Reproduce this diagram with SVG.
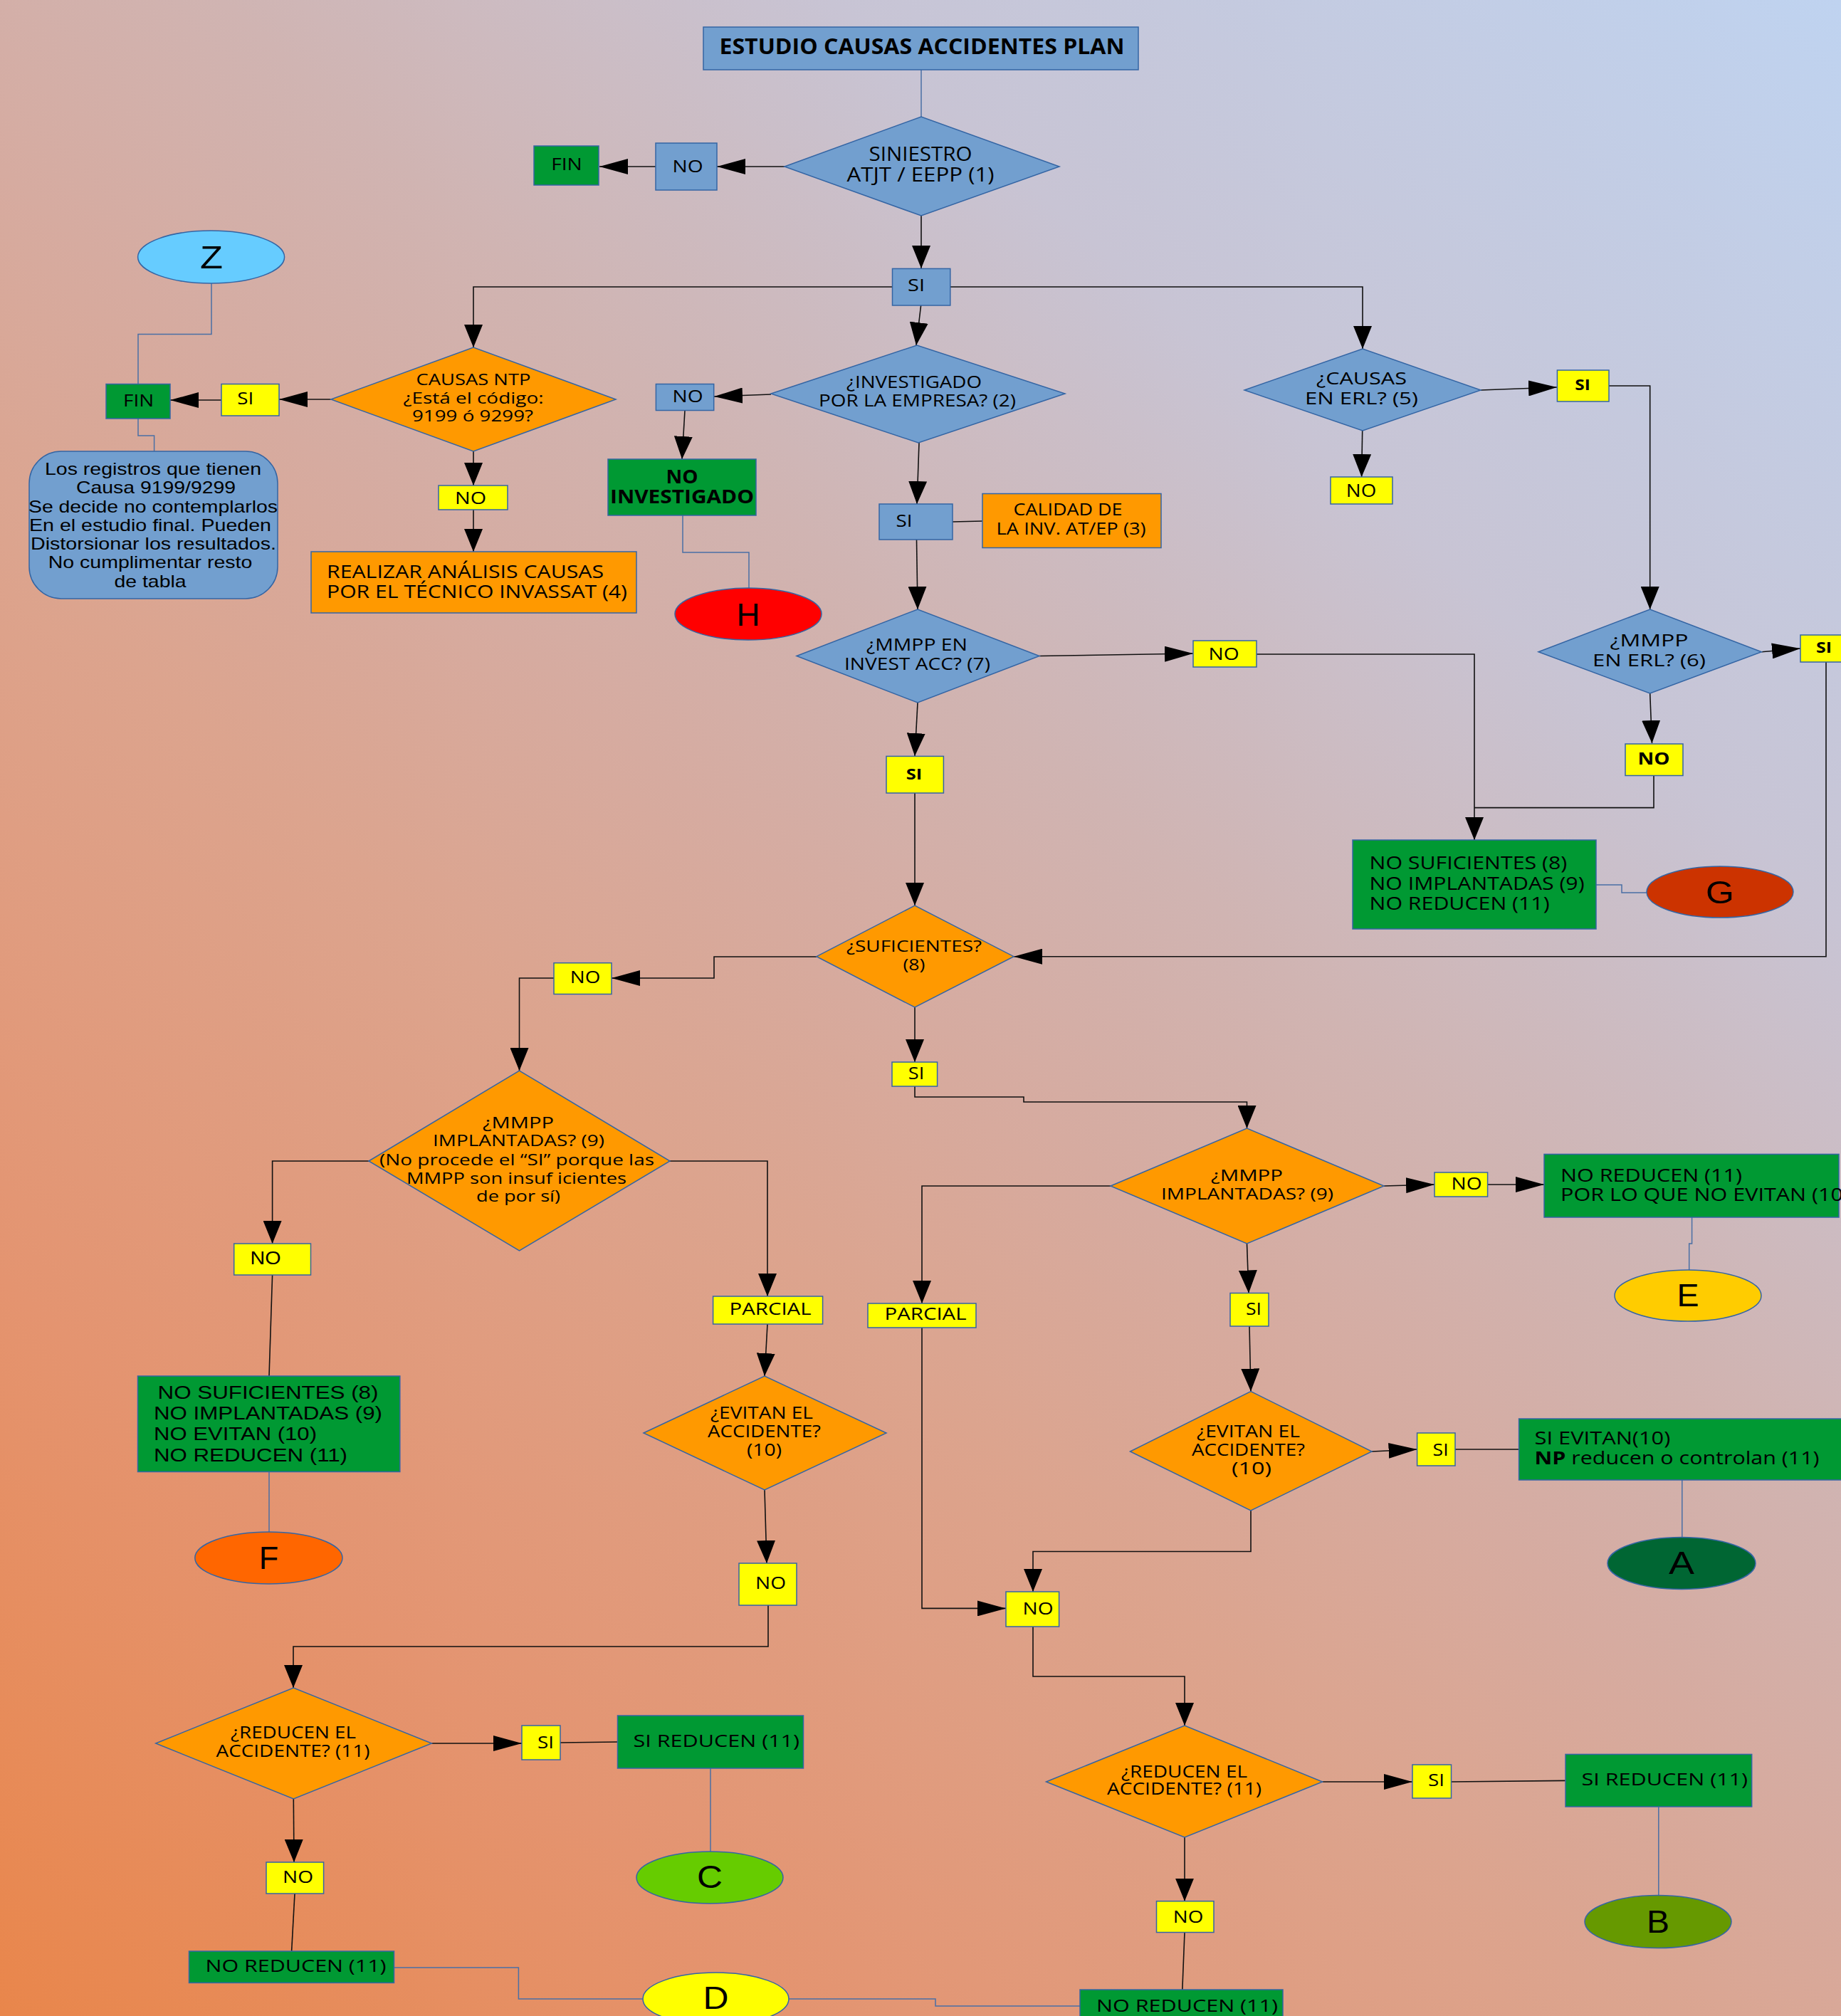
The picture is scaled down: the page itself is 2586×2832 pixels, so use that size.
<svg xmlns="http://www.w3.org/2000/svg" width="2586" height="2832" viewBox="0 0 2586 2832">
<defs>
<linearGradient id="bg" gradientUnits="userSpaceOnUse" x1="0" y1="2832" x2="2586" y2="0">
<stop offset="0" stop-color="#e9864b"/>
<stop offset="0.2" stop-color="#e49470"/>
<stop offset="0.4" stop-color="#dca48e"/>
<stop offset="0.5" stop-color="#d6aba0"/>
<stop offset="0.6" stop-color="#d0b4b2"/>
<stop offset="0.75" stop-color="#c8c4d4"/>
<stop offset="1" stop-color="#bfd3f0"/>
</linearGradient>
<marker id="ah" markerUnits="userSpaceOnUse" markerWidth="40" markerHeight="22" refX="40" refY="11" orient="auto"><path d="M0,0L40,11L0,22z" fill="#000"/></marker>
<marker id="av" markerUnits="userSpaceOnUse" markerWidth="32" markerHeight="26" refX="32" refY="13" orient="auto"><path d="M0,0L32,13L0,26z" fill="#000"/></marker>
<style>
.o{font-family:"Open Sans","Liberation Sans",sans-serif;fill:#000}
.l{font-family:"Liberation Sans",Arial,sans-serif;fill:#000}
.c{text-anchor:middle}
.b{font-weight:bold}
.n{stroke:#3465a4;stroke-width:1.5}
.bl{fill:#729fcf}.or{fill:#ff9900}.ye{fill:#ffff00}.gr{fill:#009933}
.k{fill:none;stroke:#111;stroke-width:1.6}
.u{fill:none;stroke:#4a6fa5;stroke-width:1.5}
.h{marker-end:url(#ah)}.v{marker-end:url(#av)}
</style>
</defs>
<rect x="0" y="0" width="2586" height="2832" fill="url(#bg)"/>

<g id="connectors">
<path class="u" d="M1294,98V164"/>
<path class="k h" d="M1102,234H1007"/>
<path class="k h" d="M921,234H842"/>
<path class="k v" d="M1294,303V377"/>
<path class="k v" d="M1254,403H665V488"/>
<path class="k v" d="M1335,403H1914V490"/>
<path class="k v" d="M1293.6,429L1287,485"/>
<path class="k h" d="M1083,554L1003,557"/>
<path class="k v" d="M962,576.5L958,645"/>
<path class="u" d="M959,724V776H1052V826"/>
<path class="k v" d="M1291,622L1288,708"/>
<path class="k" d="M1338,733L1380,732"/>
<path class="k v" d="M1287.5,758L1289,856"/>
<path class="k h" d="M1460,921.5L1676,918"/>
<path class="k v" d="M1765,919H2071V1180"/>
<path class="k" d="M2323,1089.5V1134.6H2071"/>
<path class="u" d="M2242,1243H2278V1254H2313"/>
<path class="k v" d="M2317.7,974L2320.5,1044"/>
<path class="k h" d="M2474.4,915.7L2529,911"/>
<path class="k h" d="M2565,930V1343.7H1424"/>
<path class="k h" d="M464.5,561H392"/>
<path class="k h" d="M311,562H239"/>
<path class="u" d="M297,398V469.5H194V539.5"/>
<path class="u" d="M194,588V612H216.6V634"/>
<path class="k v" d="M665,634V682"/>
<path class="k v" d="M665,716V775"/>
<path class="k h" d="M2080,548L2187,544"/>
<path class="k v" d="M2260,542H2317.7V856"/>
<path class="k v" d="M1913.7,605L1912.6,670"/>
<path class="k v" d="M1289,987L1285,1062"/>
<path class="k v" d="M1285,1114V1272"/>
<path class="k h" d="M1147,1344H1003V1374H859"/>
<path class="k v" d="M778,1374H729.5V1504"/>
<path class="k v" d="M1285,1415V1492"/>
<path class="k v" d="M1285,1526V1541H1438V1548H1751.5V1585"/>
<path class="k v" d="M518,1631H382.6V1747"/>
<path class="k" d="M382.6,1791L378,1933"/>
<path class="u" d="M378,2067.5V2152"/>
<path class="k v" d="M941,1631H1078V1821"/>
<path class="k v" d="M1078,1860L1074,1933"/>
<path class="k v" d="M1074,2093L1077,2196"/>
<path class="k v" d="M1079,2255V2313H412V2371"/>
<path class="k h" d="M606.4,2449H733"/>
<path class="k" d="M787,2448L867.5,2447"/>
<path class="u" d="M998,2484V2601"/>
<path class="k v" d="M412.3,2527L413,2616"/>
<path class="k" d="M414,2660L409.6,2741"/>
<path class="u" d="M553.6,2764H728.4V2808H903"/>
<path class="u" d="M1108,2808H1314V2818H1517"/>
<path class="k h" d="M1944,1666L2015,1664"/>
<path class="k h" d="M2090,1664H2169"/>
<path class="u" d="M2376.6,1710V1747H2372.7V1784"/>
<path class="k v" d="M1751.5,1747L1754,1816.5"/>
<path class="k v" d="M1755,1863L1757,1954.6"/>
<path class="k h" d="M1927,2039L1990.6,2036"/>
<path class="k" d="M2044,2036H2133.6"/>
<path class="u" d="M2362.8,2079V2159"/>
<path class="k v" d="M1757,2122V2179.5H1451V2236"/>
<path class="k v" d="M1560,1666H1295V1831"/>
<path class="k h" d="M1295,1865V2259.4H1413"/>
<path class="k v" d="M1451,2285V2355H1664V2424"/>
<path class="k h" d="M1857.6,2503H1984"/>
<path class="k" d="M2038.5,2503L2199,2501.4"/>
<path class="u" d="M2329.8,2538V2662.6"/>
<path class="k v" d="M1664,2581V2670.7"/>
<path class="k" d="M1664,2714.5L1660.8,2795.8"/>
</g>

<g id="titulo"><rect x="988" y="38" width="611" height="60" class="n bl"/><text class="o b c" x="1295" y="76" font-size="30" textLength="569" lengthAdjust="spacingAndGlyphs">ESTUDIO CAUSAS ACCIDENTES PLAN</text></g>

<g id="d-siniestro"><polygon points="1102,234 1294,164 1488,234 1294,303" class="n bl"/>
<text class="o c" x="1293" y="226" font-size="27" textLength="145" lengthAdjust="spacingAndGlyphs">SINIESTRO</text>
<text class="o c" x="1293" y="255" font-size="27" textLength="207" lengthAdjust="spacingAndGlyphs">ATJT / EEPP (1)</text></g>

<g id="no-1"><rect x="921" y="201" width="86" height="66" class="n bl"/><text class="o c" x="966" y="241.5" font-size="24" textLength="43" lengthAdjust="spacingAndGlyphs">NO</text></g>
<g id="fin-1"><rect x="750" y="205" width="91" height="55" class="n gr"/><text class="o c" x="796" y="239" font-size="23" textLength="43.5" lengthAdjust="spacingAndGlyphs">FIN</text></g>
<g id="si-1"><rect x="1253.5" y="377.4" width="81.3" height="51.6" class="n bl"/><text class="o c" x="1287" y="408.6" font-size="23" textLength="24" lengthAdjust="spacingAndGlyphs">SI</text></g>

<g id="d-ntp"><polygon points="465,561 665,488 865,561 665,634" class="n or"/>
<text class="o c" x="665" y="541" font-size="22" textLength="161" lengthAdjust="spacingAndGlyphs">CAUSAS NTP</text>
<text class="o c" x="665" y="566.6" font-size="22" textLength="197" lengthAdjust="spacingAndGlyphs">¿Está el código:</text>
<text class="o c" x="664" y="592" font-size="22" textLength="170" lengthAdjust="spacingAndGlyphs">9199 ó 9299?</text></g>
<g id="si-ntp"><rect x="311" y="539.5" width="81" height="44.5" class="n ye"/><text class="o c" x="344.7" y="568" font-size="23" textLength="23" lengthAdjust="spacingAndGlyphs">SI</text></g>
<g id="fin-2"><rect x="149" y="539.5" width="90" height="48.5" class="n gr"/><text class="o c" x="194.6" y="571" font-size="23" textLength="43" lengthAdjust="spacingAndGlyphs">FIN</text></g>
<g id="z"><ellipse cx="296.6" cy="361" rx="103" ry="37" fill="#66ccff" class="n"/><text class="l c" x="297" y="377" font-size="45" textLength="32" lengthAdjust="spacingAndGlyphs">Z</text></g>
<g id="nota"><rect x="41" y="634" width="349" height="207" rx="45" ry="45" class="n bl"/>
<text class="l c" x="215" y="667" font-size="24" textLength="304" lengthAdjust="spacingAndGlyphs">Los registros que tienen</text>
<text class="l c" x="219" y="693" font-size="24" textLength="224" lengthAdjust="spacingAndGlyphs">Causa 9199/9299</text>
<text class="l c" x="215" y="719.5" font-size="24" textLength="350" lengthAdjust="spacingAndGlyphs">Se decide no contemplarlos</text>
<text class="l c" x="211" y="746" font-size="24" textLength="340" lengthAdjust="spacingAndGlyphs">En el estudio final. Pueden</text>
<text class="l c" x="215.5" y="772" font-size="24" textLength="345" lengthAdjust="spacingAndGlyphs">Distorsionar los resultados.</text>
<text class="l c" x="211" y="798" font-size="24" textLength="286.5" lengthAdjust="spacingAndGlyphs">No cumplimentar resto</text>
<text class="l c" x="211" y="824.5" font-size="24" textLength="101" lengthAdjust="spacingAndGlyphs">de tabla</text></g>
<g id="no-ntp"><rect x="616" y="682" width="97" height="34" class="n ye"/><text class="o c" x="661" y="707.5" font-size="24" textLength="44" lengthAdjust="spacingAndGlyphs">NO</text></g>
<g id="realizar"><rect x="437" y="775" width="457" height="86" class="n or"/>
<text class="o" x="459" y="811.8" font-size="25" textLength="389" lengthAdjust="spacingAndGlyphs">REALIZAR ANÁLISIS CAUSAS</text>
<text class="o" x="459" y="839.8" font-size="25" textLength="422" lengthAdjust="spacingAndGlyphs">POR EL TÉCNICO INVASSAT (4)</text></g>

<g id="d-investigado"><polygon points="1083,553 1288,485 1496,553 1290,622" class="n bl"/>
<text class="o c" x="1284" y="545" font-size="23" textLength="190" lengthAdjust="spacingAndGlyphs">¿INVESTIGADO</text>
<text class="o c" x="1288.5" y="571" font-size="23" textLength="277" lengthAdjust="spacingAndGlyphs">POR LA EMPRESA? (2)</text></g>
<g id="no-2"><rect x="921.4" y="539.5" width="81.3" height="37" class="n bl"/><text class="o c" x="966" y="565.2" font-size="23" textLength="43" lengthAdjust="spacingAndGlyphs">NO</text></g>
<g id="no-investigado"><rect x="854" y="645" width="208" height="79" class="n gr"/>
<text class="o b c" x="958" y="678.6" font-size="26" textLength="45" lengthAdjust="spacingAndGlyphs">NO</text>
<text class="o b c" x="958" y="707" font-size="26" textLength="202" lengthAdjust="spacingAndGlyphs">INVESTIGADO</text></g>
<g id="h"><ellipse cx="1051" cy="862.6" rx="103" ry="36.5" fill="#ff0000" class="n"/><text class="l c" x="1051" y="879" font-size="45" textLength="33" lengthAdjust="spacingAndGlyphs">H</text></g>
<g id="si-2"><rect x="1235" y="708" width="103" height="50" class="n bl"/><text class="o c" x="1270" y="739.6" font-size="23" textLength="23" lengthAdjust="spacingAndGlyphs">SI</text></g>
<g id="calidad"><rect x="1380" y="693.5" width="251" height="76" class="n or"/>
<text class="o c" x="1500" y="724" font-size="23" textLength="153" lengthAdjust="spacingAndGlyphs">CALIDAD DE</text>
<text class="o c" x="1504.6" y="751" font-size="23" textLength="210" lengthAdjust="spacingAndGlyphs">LA INV. AT/EP (3)</text></g>

<g id="d-invest-acc"><polygon points="1119,921.5 1289,856 1460,921.5 1289,987" class="n bl"/>
<text class="o c" x="1288" y="914" font-size="23" textLength="142" lengthAdjust="spacingAndGlyphs">¿MMPP EN</text>
<text class="o c" x="1288.5" y="940.5" font-size="23" textLength="205" lengthAdjust="spacingAndGlyphs">INVEST ACC? (7)</text></g>
<g id="no-7"><rect x="1676" y="900" width="89" height="37" class="n ye"/><text class="o c" x="1719" y="926.5" font-size="24" textLength="43" lengthAdjust="spacingAndGlyphs">NO</text></g>

<g id="d-causas-erl"><polygon points="1748,548 1914,490 2080,548 1914,605" class="n bl"/>
<text class="o c" x="1912.5" y="540" font-size="24" textLength="127" lengthAdjust="spacingAndGlyphs">¿CAUSAS</text>
<text class="o c" x="1912.5" y="568" font-size="24" textLength="159" lengthAdjust="spacingAndGlyphs">EN ERL? (5)</text></g>
<g id="si-5"><rect x="2187.4" y="520" width="72.6" height="44" class="n ye"/><text class="o b c" x="2223" y="548" font-size="21" textLength="21.5" lengthAdjust="spacingAndGlyphs">SI</text></g>
<g id="no-5"><rect x="1869" y="670" width="87" height="38" class="n ye"/><text class="o c" x="1912" y="698" font-size="25" textLength="42.4" lengthAdjust="spacingAndGlyphs">NO</text></g>

<g id="d-mmpp-erl"><polygon points="2161,915.7 2317.7,856 2474.4,915.7 2317.7,974" class="n bl"/>
<text class="o c" x="2316.6" y="907.5" font-size="23" textLength="110" lengthAdjust="spacingAndGlyphs">¿MMPP</text>
<text class="o c" x="2316.5" y="936" font-size="23" textLength="159" lengthAdjust="spacingAndGlyphs">EN ERL? (6)</text></g>
<g id="si-6"><rect x="2529" y="892" width="58" height="38" class="n ye"/><text class="o b c" x="2562" y="917" font-size="21" textLength="22" lengthAdjust="spacingAndGlyphs">SI</text></g>
<g id="no-6"><rect x="2283" y="1045" width="81" height="44.5" class="n ye"/><text class="o b c" x="2323" y="1074" font-size="24" textLength="45" lengthAdjust="spacingAndGlyphs">NO</text></g>
<g id="resultado-g"><rect x="1900" y="1180" width="342" height="125" class="n gr"/>
<text class="o" x="1923.6" y="1221" font-size="25" textLength="277.6" lengthAdjust="spacingAndGlyphs">NO SUFICIENTES (8)</text>
<text class="o" x="1923.6" y="1249.5" font-size="25" textLength="302" lengthAdjust="spacingAndGlyphs">NO IMPLANTADAS (9)</text>
<text class="o" x="1923.6" y="1278" font-size="25" textLength="253" lengthAdjust="spacingAndGlyphs">NO REDUCEN (11)</text></g>
<g id="g"><ellipse cx="2416" cy="1253" rx="103" ry="36" fill="#cc3300" class="n"/><text class="l c" x="2416" y="1269" font-size="45" textLength="40" lengthAdjust="spacingAndGlyphs">G</text></g>

<g id="si-7"><rect x="1245" y="1062.4" width="80.4" height="51.6" class="n ye"/><text class="o b c" x="1284" y="1095" font-size="22" textLength="22.5" lengthAdjust="spacingAndGlyphs">SI</text></g>
<g id="d-suficientes"><polygon points="1147,1343.7 1285,1272 1424,1343.7 1285,1415" class="n or"/>
<text class="o c" x="1284" y="1337" font-size="22" textLength="190" lengthAdjust="spacingAndGlyphs">¿SUFICIENTES?</text>
<text class="o c" x="1284" y="1362.6" font-size="22" textLength="31" lengthAdjust="spacingAndGlyphs">(8)</text></g>
<g id="no-8"><rect x="778" y="1352.7" width="81" height="43.8" class="n ye"/><text class="o c" x="822" y="1381" font-size="24" textLength="42.5" lengthAdjust="spacingAndGlyphs">NO</text></g>
<g id="si-8"><rect x="1253" y="1492" width="63.6" height="34" class="n ye"/><text class="o c" x="1287" y="1516" font-size="23" textLength="22.5" lengthAdjust="spacingAndGlyphs">SI</text></g>

<g id="d-implantadas-a"><polygon points="518,1631 729.5,1504 941,1631 729.5,1757" class="n or"/>
<text class="o c" x="728" y="1585" font-size="22" textLength="100" lengthAdjust="spacingAndGlyphs">¿MMPP</text>
<text class="o c" x="728.5" y="1610" font-size="22" textLength="241" lengthAdjust="spacingAndGlyphs">IMPLANTADAS? (9)</text>
<text class="o c" x="726" y="1637" font-size="22" textLength="386" lengthAdjust="spacingAndGlyphs">(No procede el “SI” porque las</text>
<text class="o c" x="725.5" y="1663" font-size="22" textLength="309" lengthAdjust="spacingAndGlyphs">MMPP son insuf icientes</text>
<text class="o c" x="728" y="1688" font-size="22" textLength="118" lengthAdjust="spacingAndGlyphs">de por sí)</text></g>
<g id="no-9a"><rect x="328.7" y="1747" width="107.8" height="44" class="n ye"/><text class="l c" x="373" y="1776" font-size="25" textLength="43" lengthAdjust="spacingAndGlyphs">NO</text></g>
<g id="resultado-f"><rect x="193.5" y="1933" width="368.3" height="134.5" class="n gr"/>
<text class="l" x="221.5" y="1965.4" font-size="25" textLength="310" lengthAdjust="spacingAndGlyphs">NO SUFICIENTES (8)</text>
<text class="l" x="216" y="1994" font-size="25" textLength="321" lengthAdjust="spacingAndGlyphs">NO IMPLANTADAS (9)</text>
<text class="l" x="216" y="2023" font-size="25" textLength="229" lengthAdjust="spacingAndGlyphs">NO EVITAN (10)</text>
<text class="l" x="216" y="2052.6" font-size="25" textLength="272" lengthAdjust="spacingAndGlyphs">NO REDUCEN (11)</text></g>
<g id="f"><ellipse cx="377.4" cy="2188.5" rx="103.6" ry="36.5" fill="#ff6600" class="n"/><text class="l c" x="377.4" y="2204.4" font-size="45" textLength="27.5" lengthAdjust="spacingAndGlyphs">F</text></g>
<g id="parcial-a"><rect x="1001.6" y="1821" width="154" height="39" class="n ye"/><text class="o c" x="1082" y="1847" font-size="24" textLength="115" lengthAdjust="spacingAndGlyphs">PARCIAL</text></g>
<g id="d-evitan-a"><polygon points="904,2013 1074,1933 1245,2013 1074,2093" class="n or"/>
<text class="o c" x="1070" y="1993" font-size="23" textLength="144" lengthAdjust="spacingAndGlyphs">¿EVITAN EL</text>
<text class="o c" x="1073.5" y="2018.7" font-size="23" textLength="159" lengthAdjust="spacingAndGlyphs">ACCIDENTE?</text>
<text class="o c" x="1073.5" y="2045" font-size="23" textLength="49" lengthAdjust="spacingAndGlyphs">(10)</text></g>
<g id="no-10a"><rect x="1038" y="2196" width="81" height="59" class="n ye"/><text class="o c" x="1082.5" y="2232" font-size="24" textLength="43" lengthAdjust="spacingAndGlyphs">NO</text></g>
<g id="d-reducen-a"><polygon points="218.8,2449 412.3,2371 606.4,2449 412.3,2527" class="n or"/>
<text class="o c" x="412" y="2442" font-size="23" textLength="176" lengthAdjust="spacingAndGlyphs">¿REDUCEN EL</text>
<text class="o c" x="411.5" y="2468" font-size="23" textLength="216" lengthAdjust="spacingAndGlyphs">ACCIDENTE? (11)</text></g>
<g id="si-11a"><rect x="733" y="2424" width="54" height="48" class="n ye"/><text class="o c" x="766.5" y="2456" font-size="23" textLength="23" lengthAdjust="spacingAndGlyphs">SI</text></g>
<g id="resultado-c"><rect x="867.5" y="2410" width="261" height="74" class="n gr"/><text class="o" x="889.5" y="2453.6" font-size="23" textLength="233.6" lengthAdjust="spacingAndGlyphs">SI REDUCEN (11)</text></g>
<g id="c"><ellipse cx="997" cy="2637.5" rx="103" ry="36.5" fill="#66cc00" class="n"/><text class="l c" x="997" y="2652" font-size="45" textLength="36" lengthAdjust="spacingAndGlyphs">C</text></g>
<g id="no-11a"><rect x="374" y="2616" width="80.6" height="44" class="n ye"/><text class="o c" x="418.5" y="2645" font-size="24" textLength="43" lengthAdjust="spacingAndGlyphs">NO</text></g>
<g id="resultado-d1"><rect x="265.5" y="2741" width="288" height="44.4" class="n gr"/><text class="o" x="288.6" y="2769.6" font-size="24" textLength="254" lengthAdjust="spacingAndGlyphs">NO REDUCEN (11)</text></g>
<g id="d"><ellipse cx="1005.5" cy="2808" rx="102.5" ry="37" fill="#ffff00" class="n"/><text class="l c" x="1005.5" y="2821.5" font-size="45" textLength="36" lengthAdjust="spacingAndGlyphs">D</text></g>

<g id="d-implantadas-b"><polygon points="1560,1666 1751.5,1585 1944,1666 1751.5,1747" class="n or"/>
<text class="o c" x="1751.5" y="1659" font-size="22" textLength="101" lengthAdjust="spacingAndGlyphs">¿MMPP</text>
<text class="o c" x="1752" y="1685" font-size="22" textLength="242" lengthAdjust="spacingAndGlyphs">IMPLANTADAS? (9)</text></g>
<g id="no-9b"><rect x="2015" y="1647" width="74.6" height="34" class="n ye"/><text class="o c" x="2060" y="1671" font-size="24" textLength="43" lengthAdjust="spacingAndGlyphs">NO</text></g>
<g id="resultado-e"><rect x="2169" y="1621.4" width="414" height="88.6" class="n gr"/>
<text class="o" x="2192" y="1660" font-size="25" textLength="255" lengthAdjust="spacingAndGlyphs">NO REDUCEN (11)</text>
<text class="o" x="2192" y="1687" font-size="25" textLength="406" lengthAdjust="spacingAndGlyphs">POR LO QUE NO EVITAN (10)</text></g>
<g id="e"><ellipse cx="2371" cy="1820" rx="103" ry="36" fill="#ffcc00" class="n"/><text class="l c" x="2371" y="1835" font-size="45" textLength="31" lengthAdjust="spacingAndGlyphs">E</text></g>
<g id="si-9b"><rect x="1728" y="1816.5" width="54" height="46.5" class="n ye"/><text class="o c" x="1761" y="1847" font-size="23" textLength="22" lengthAdjust="spacingAndGlyphs">SI</text></g>
<g id="parcial-b"><rect x="1219" y="1831" width="152" height="34" class="n ye"/><text class="o c" x="1300" y="1854" font-size="24" textLength="115" lengthAdjust="spacingAndGlyphs">PARCIAL</text></g>
<g id="d-evitan-b"><polygon points="1587.5,2039 1757,1954.6 1927,2039 1757,2122" class="n or"/>
<text class="o c" x="1753.5" y="2018.7" font-size="23" textLength="145" lengthAdjust="spacingAndGlyphs">¿EVITAN EL</text>
<text class="o c" x="1753.5" y="2045" font-size="23" textLength="159" lengthAdjust="spacingAndGlyphs">ACCIDENTE?</text>
<text class="o c" x="1758" y="2070.6" font-size="23" textLength="56" lengthAdjust="spacingAndGlyphs">(10)</text></g>
<g id="si-10b"><rect x="1990.6" y="2013" width="53.4" height="46" class="n ye"/><text class="o c" x="2023.6" y="2044.5" font-size="23" textLength="22" lengthAdjust="spacingAndGlyphs">SI</text></g>
<g id="resultado-a"><rect x="2133.6" y="1993" width="456" height="86" class="n gr"/>
<text class="o" x="2155.6" y="2029" font-size="25" textLength="190.7" lengthAdjust="spacingAndGlyphs">SI EVITAN(10)</text>
<text class="o" x="2155.6" y="2057" font-size="25" textLength="400" lengthAdjust="spacingAndGlyphs"><tspan class="b">NP</tspan> reducen o controlan (11)</text></g>
<g id="a"><ellipse cx="2362" cy="2196" rx="104" ry="36.5" fill="#006633" class="n"/><text class="l c" x="2362" y="2211" font-size="45" textLength="36" lengthAdjust="spacingAndGlyphs">A</text></g>
<g id="no-10b"><rect x="1413" y="2236" width="74.6" height="49" class="n ye"/><text class="o c" x="1458" y="2267.6" font-size="24" textLength="43" lengthAdjust="spacingAndGlyphs">NO</text></g>
<g id="d-reducen-b"><polygon points="1469.5,2503 1664,2424 1857.6,2503 1664,2581" class="n or"/>
<text class="o c" x="1663.5" y="2496.5" font-size="23" textLength="177" lengthAdjust="spacingAndGlyphs">¿REDUCEN EL</text>
<text class="o c" x="1663.5" y="2521" font-size="23" textLength="217" lengthAdjust="spacingAndGlyphs">ACCIDENTE? (11)</text></g>
<g id="si-11b"><rect x="1984" y="2479" width="54.5" height="47" class="n ye"/><text class="o c" x="2017.6" y="2508.6" font-size="23" textLength="23" lengthAdjust="spacingAndGlyphs">SI</text></g>
<g id="resultado-b"><rect x="2199" y="2464.4" width="261.7" height="73.6" class="n gr"/><text class="o" x="2221.5" y="2507.7" font-size="23" textLength="233.6" lengthAdjust="spacingAndGlyphs">SI REDUCEN (11)</text></g>
<g id="b"><ellipse cx="2329" cy="2699.6" rx="103" ry="37" fill="#669900" class="n"/><text class="l c" x="2329" y="2714.5" font-size="45" textLength="32" lengthAdjust="spacingAndGlyphs">B</text></g>
<g id="no-11b"><rect x="1624.5" y="2670.7" width="80.5" height="43.8" class="n ye"/><text class="o c" x="1669" y="2700.5" font-size="24" textLength="42.5" lengthAdjust="spacingAndGlyphs">NO</text></g>
<g id="resultado-d2"><rect x="1517" y="2795" width="285" height="50" class="n gr"/><text class="o" x="1540" y="2826" font-size="24" textLength="255" lengthAdjust="spacingAndGlyphs">NO REDUCEN (11)</text></g>
</svg>
